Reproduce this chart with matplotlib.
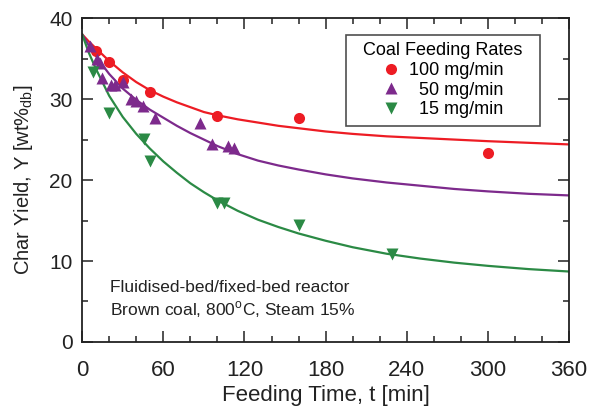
import matplotlib
matplotlib.use("Agg")
import matplotlib.pyplot as plt
from matplotlib.ticker import MultipleLocator

plt.rcParams['font.family'] = ['Liberation Sans', 'DejaVu Sans']
plt.rcParams['mathtext.fontset'] = 'custom'
plt.rcParams['mathtext.rm'] = 'Liberation Sans'

# measured points
t_100 = [10, 20, 30, 50, 100, 160, 300]
y_100 = [36.0, 34.6, 32.3, 30.9, 27.9, 27.7, 23.4]

t_50 = [6, 11, 13, 15, 21, 24, 30, 36, 40, 45, 54, 87, 96, 108, 112]
y_50 = [36.5, 35.0, 34.4, 32.6, 31.7, 31.8, 32.1, 30.0, 29.8, 29.1, 27.7, 27.0, 24.4, 24.2, 24.0]

t_15 = [8, 20, 46, 50, 100, 105, 160, 229]
y_15 = [33.3, 28.3, 25.1, 22.3, 17.2, 17.2, 14.4, 10.9]

# fitted curves
t_fit = [0, 5, 10, 15, 20, 30, 40, 50, 60, 70, 80, 90, 100, 115, 130, 145, 160,
         180, 200, 225, 250, 275, 300, 330, 360]
fit_100 = [38.0, 37.1, 36.3, 35.5, 34.7, 33.3, 32.1, 31.1, 30.3, 29.6, 29.0, 28.4, 28.0,
           27.5, 27.1, 26.7, 26.4, 26.0, 25.7, 25.4, 25.2, 25.0, 24.8, 24.6, 24.4]
fit_50 = [38.0, 36.6, 35.4, 34.2, 33.1, 31.3, 29.9, 28.7, 27.7, 26.7, 25.8, 25.0, 24.2,
          23.2, 22.4, 21.8, 21.3, 20.7, 20.2, 19.7, 19.3, 18.9, 18.6, 18.3, 18.1]
fit_15 = [38.0, 35.7, 33.8, 32.1, 30.4, 27.8, 25.7, 23.9, 22.3, 20.9, 19.6, 18.5, 17.5,
          16.2, 15.1, 14.2, 13.4, 12.5, 11.7, 10.9, 10.3, 9.8, 9.4, 9.0, 8.7]

red = '#ed1c24'
purple = '#7d2a8c'
green = '#2b8a45'
ink = '#222222'

fig = plt.figure(figsize=(5.91, 4.12), dpi=100)
ax = fig.add_axes([0.139, 0.170, 0.824, 0.786])

ax.plot(t_fit, fit_100, color=red, lw=1.6)
ax.plot(t_fit, fit_50, color=purple, lw=1.6)
ax.plot(t_fit, fit_15, color=green, lw=1.6)

ax.plot(t_100, y_100, 'o', color=red, ms=8, mec='none', label='100 mg/min')
ax.plot(t_50, y_50, '^', color=purple, ms=9, mec='none', label='  50 mg/min')
ax.plot(t_15, y_15, 'v', color=green, ms=9, mec='none', label='  15 mg/min')

ax.set_xlim(0, 360)
ax.set_ylim(0, 40)
ax.xaxis.set_major_locator(MultipleLocator(60))
ax.xaxis.set_minor_locator(MultipleLocator(20))
ax.yaxis.set_major_locator(MultipleLocator(10))
ax.yaxis.set_minor_locator(MultipleLocator(5))
ax.tick_params(which='both', direction='in', top=True, right=True, width=1.1, colors=ink)
ax.tick_params(which='major', length=8)
ax.tick_params(which='minor', length=4.5)
ax.tick_params(axis='x', which='major', labelsize=16, pad=13)
ax.tick_params(axis='y', which='major', labelsize=15, pad=7)
for s in ax.spines.values():
    s.set_linewidth(1.3)
    s.set_color(ink)

ax.set_xlabel('Feeding Time, t [min]', fontsize=16, color=ink, labelpad=3)
ax.set_ylabel('Char Yield, Y [wt%$_\\mathregular{db}$]', fontsize=14.5, color=ink, labelpad=10)

ax.text(20.5, 7.6, 'Fluidised-bed/fixed-bed reactor\nBrown coal, 800$^\\mathregular{o}$C, Steam 15%',
        fontsize=12.5, color=ink, va='top', linespacing=1.25)

leg = ax.legend(title='  Coal Feeding Rates  ', loc='upper right', bbox_to_anchor=(0.94, 0.948),
                fontsize=13, title_fontsize=13, frameon=True, fancybox=False,
                handlelength=1.0, handletextpad=0.5, borderpad=0.4, labelspacing=0.15,
                borderaxespad=0)
leg.get_frame().set_edgecolor(ink)
leg.get_frame().set_linewidth(1.2)

fig.savefig('out.png', dpi=100)
